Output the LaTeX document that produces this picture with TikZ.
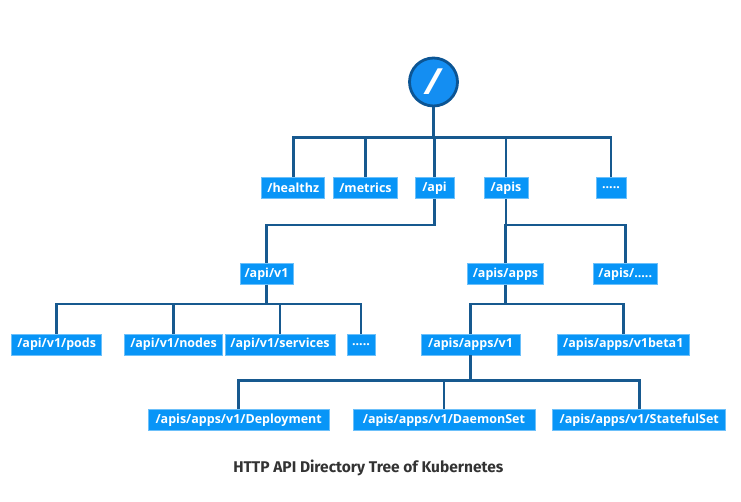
\documentclass[tikz,border=0pt]{standalone}
\usepackage{fontspec}
\setmainfont{Open Sans}
\newfontfamily\capfont{Fira Sans}
\definecolor{boxfill}{HTML}{0895F7}
\definecolor{boxedge}{HTML}{6CC0FA}
\definecolor{linecol}{HTML}{17598F}
\definecolor{rootfill}{HTML}{148EF2}
\definecolor{rootedge}{HTML}{0C5594}
\definecolor{captext}{HTML}{333333}
\begin{document}
\begin{tikzpicture}[x=1pt,y=-1pt,
  pathbox/.style={draw=boxedge,line width=0.8pt,fill=boxfill,text=white,
    font=\fontsize{12.5}{13}\selectfont\bfseries,inner sep=0pt,
    minimum height=21pt,anchor=center},
  link/.style={draw=linecol,line width=2.6pt},
  rootnode/.style={circle,draw=rootedge,line width=2.8pt,fill=rootfill,
    minimum size=48pt,inner sep=0pt,text=white,
    font=\fontsize{36}{36}\selectfont\bfseries\itshape}]
\useasboundingbox (0,0) rectangle (741,502);
% bus levels
\coordinate (b1) at (0,137.7);
\coordinate (b2) at (0,225);
\coordinate (b3) at (0,304);
\coordinate (b4) at (0,380.7);
% nodes
\node[rootnode] (root) at (433.5,82) {/};
\node[pathbox,minimum width=63pt] (healthz) at (293.3,188) {/healthz};
\node[pathbox,minimum width=64pt] (metrics) at (365.5,188) {/metrics};
\node[pathbox,minimum width=39pt] (api) at (434.5,188) {/api};
\node[pathbox,minimum width=44pt] (apis) at (506,188) {/apis};
\node[pathbox,minimum width=30pt] (more1) at (611,188) {.....};
\node[pathbox,minimum width=53pt] (apiv1) at (266.5,274) {/api/v1};
\node[pathbox,minimum width=76pt] (apisapps) at (505.5,274) {/apis/apps};
\node[pathbox,minimum width=64pt] (apismore) at (625.3,274) {/apis/.....};
\node[pathbox,minimum width=90pt] (pods) at (56.7,344.5) {/api/v1/pods};
\node[pathbox,minimum width=98pt] (nodes) at (173.5,344.5) {/api/v1/nodes};
\node[pathbox,minimum width=110pt] (services) at (280,344.5) {/api/v1/services};
\node[pathbox,minimum width=28pt] (more2) at (361,344.5) {.....};
\node[pathbox,minimum width=99pt] (appsv1) at (470.5,344.5) {/apis/apps/v1};
\node[pathbox,minimum width=132pt] (v1beta1) at (623.3,344.5) {/apis/apps/v1beta1};
\node[pathbox,minimum width=181pt] (deploy) at (238.7,420.3) {/apis/apps/v1/Deployment};
\node[pathbox,minimum width=182pt] (daemon) at (444,420.3) {/apis/apps/v1/DaemonSet};
\node[pathbox,minimum width=173pt] (stateful) at (639.3,420.3) {/apis/apps/v1/StatefulSet};
\node[text=captext,font=\capfont\fontsize{15.5}{16}\selectfont\bfseries] (caption) at (368.3,468) {HTTP API Directory Tree of Kubernetes};
% connectors
\foreach \c in {healthz,metrics,api,apis,more1}
  \draw[link] (root.south) -- (root.south |- b1) -| (\c.north);
\draw[link] (api.south) -- (api.south |- b2) -| (apiv1.north);
\foreach \c in {apisapps,apismore}
  \draw[link] (apis.south) -- (apis.south |- b2) -| (\c.north);
\foreach \c in {pods,nodes,services,more2}
  \draw[link] (apiv1.south) -- (apiv1.south |- b3) -| (\c.north);
\foreach \c in {appsv1,v1beta1}
  \draw[link] (apisapps.south) -- (apisapps.south |- b3) -| (\c.north);
\foreach \c in {deploy,daemon,stateful}
  \draw[link] (appsv1.south) -- (appsv1.south |- b4) -| (\c.north);
\end{tikzpicture}
\end{document}
